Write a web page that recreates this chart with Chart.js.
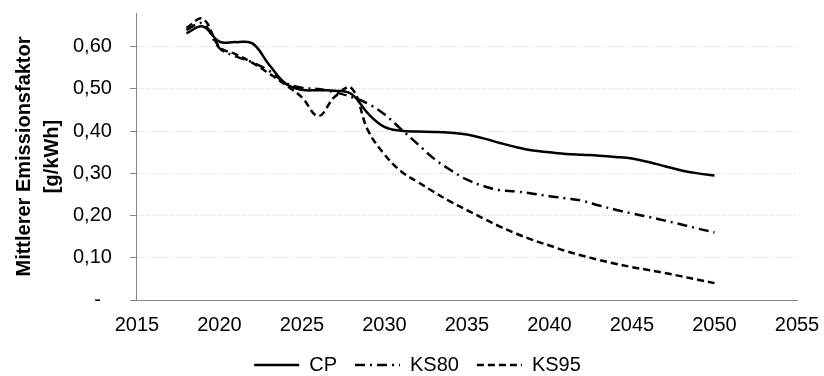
<!DOCTYPE html>
<html>
<head>
<meta charset="utf-8">
<script src="https://cdn.jsdelivr.net/npm/chart.js@4.4.1/dist/chart.umd.min.js"></script>
<style>
  body { margin: 0; background: #fff; }
  #wrap { width: 824px; height: 376px; position: relative; }
</style>
</head>
<body>
<div id="wrap"><canvas id="emissionChart"></canvas></div>
<script>
const years = [2018, 2019, 2020, 2021, 2022, 2023, 2024, 2025, 2026, 2027, 2028,
  2029, 2030, 2031, 2032, 2033, 2034, 2035, 2036, 2037, 2038, 2039, 2040,
  2041, 2042, 2043, 2044, 2045, 2046, 2047, 2048, 2049, 2050];

const cp = [0.632, 0.648, 0.612, 0.611, 0.608, 0.558, 0.513, 0.498, 0.497, 0.496, 0.488,
  0.442, 0.410, 0.401, 0.399, 0.398, 0.396, 0.392, 0.383, 0.372, 0.362, 0.354, 0.350,
  0.346, 0.344, 0.342, 0.339, 0.335, 0.327, 0.317, 0.307, 0.300, 0.295];

const ks80 = [0.640, 0.655, 0.597, 0.577, 0.563, 0.543, 0.515, 0.503, 0.500, 0.492, 0.481,
  0.465, 0.440, 0.405, 0.370, 0.335, 0.308, 0.285, 0.270, 0.260, 0.257, 0.252, 0.246,
  0.241, 0.235, 0.224, 0.214, 0.205, 0.197, 0.188, 0.179, 0.169, 0.160];

const ks95 = [0.645, 0.666, 0.600, 0.582, 0.562, 0.537, 0.510, 0.480, 0.436, 0.482, 0.502,
  0.402, 0.345, 0.305, 0.280, 0.256, 0.233, 0.213, 0.193, 0.174, 0.157, 0.142, 0.129,
  0.116, 0.105, 0.095, 0.086, 0.078, 0.071, 0.064, 0.056, 0.048, 0.040];

const xTicks = [2015, 2020, 2025, 2030, 2035, 2040, 2045, 2050, 2055];
const yTicks = [0, 0.1, 0.2, 0.3, 0.4, 0.5, 0.6];

Chart.defaults.font.family = "'Liberation Sans', Arial, sans-serif";
Chart.defaults.color = '#000';

const toPoints = values => years.map((yr, i) => ({ x: yr, y: values[i] }));

const lineStyle = {
  borderColor: '#000',
  backgroundColor: '#000',
  borderWidth: 2.5,
  pointRadius: 0,
  tension: 0.4,
  fill: false
};

// legend sits a bit lower and further right than chart.js puts it
const legendNudge = {
  id: 'legendNudge',
  beforeLayout(chart) {
    const legend = chart.legend;
    if (!legend || legend._nudged) return;
    const fit = legend.fit;
    legend.fit = function () {
      fit.call(this);
      this.height -= 9;
    };
    legend._nudged = true;
  },
  afterLayout(chart) {
    if (chart.legend) chart.legend.left += 38;
  }
};

new Chart(document.getElementById('emissionChart'), {
  type: 'line',
  data: {
    datasets: [
      { label: 'CP', data: toPoints(cp), ...lineStyle },
      { label: 'KS80', data: toPoints(ks80), ...lineStyle, borderDash: [10, 5, 2, 5] },
      { label: 'KS95', data: toPoints(ks95), ...lineStyle, borderDash: [7, 4] }
    ]
  },
  options: {
    responsive: true,
    maintainAspectRatio: false,
    animation: false,
    layout: {
      padding: { top: 13, right: 27, bottom: 0, left: 0 }
    },
    scales: {
      x: {
        type: 'linear',
        min: 2015,
        max: 2055,
        afterBuildTicks: axis => { axis.ticks = xTicks.map(v => ({ value: v })); },
        afterFit: scale => {
          // chart.js counts the tick padding twice
          scale.height -= scale.options.ticks.padding;
          scale.paddingLeft = 0;
          scale.paddingRight = 0;
        },
        ticks: {
          font: { size: 20, lineHeight: 1.2 },
          color: '#000',
          padding: 13,
          maxRotation: 0,
          callback: value => String(value)
        },
        grid: { display: false, drawTicks: false },
        border: { color: '#868686', width: 1 }
      },
      y: {
        min: 0,
        max: 0.68,
        afterBuildTicks: axis => { axis.ticks = yTicks.map(v => ({ value: v })); },
        afterFit: scale => {
          scale.width -= scale.options.ticks.padding;
          scale.paddingTop = 0;
        },
        ticks: {
          font: { size: 20 },
          color: '#000',
          padding: 18,
          callback: value => value === 0 ? '-  ' : value.toFixed(2).replace('.', ',')
        },
        grid: {
          color: ctx => (ctx.tick && ctx.tick.value === 0) ? 'rgba(0,0,0,0)' : '#d0d0d0',
          tickColor: '#868686',
          tickLength: 7,
          lineWidth: 1
        },
        border: { color: '#868686', width: 1, dash: [1, 2] },
        title: {
          display: true,
          text: ['Mittlerer Emissionsfaktor', '[g/kWh]'],
          font: { size: 20, weight: 'bold', lineHeight: 1.4 },
          color: '#000',
          padding: { top: 10, bottom: 7 }
        }
      }
    },
    plugins: {
      legend: {
        position: 'bottom',
        labels: {
          usePointStyle: true,
          pointStyle: 'line',
          pointStyleWidth: 45,
          padding: 18,
          font: { size: 20 },
          color: '#000',
          generateLabels: chart => Chart.defaults.plugins.legend.labels.generateLabels(chart)
            .map(item => ({ ...item, lineDash: chart.data.datasets[item.datasetIndex].borderDash || [] }))
        }
      },
      tooltip: { enabled: false }
    }
  },
  plugins: [legendNudge]
});
</script>
</body>
</html>
